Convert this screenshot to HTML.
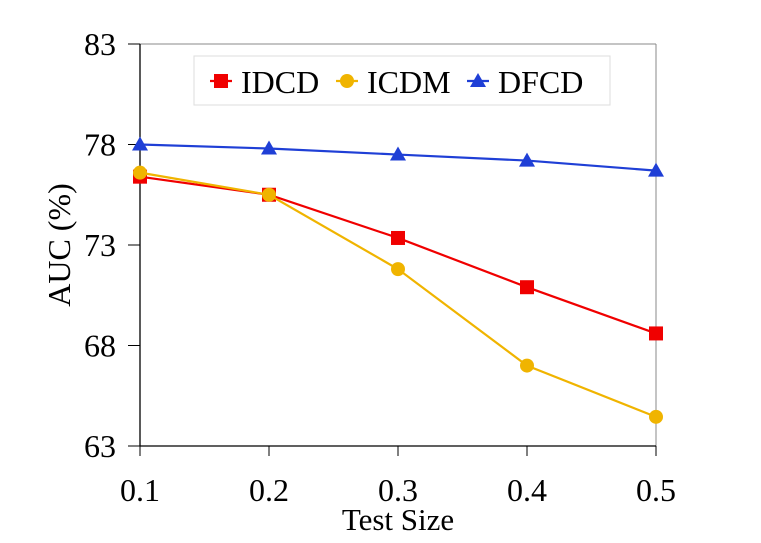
<!DOCTYPE html>
<html><head><meta charset="utf-8"><style>
body{margin:0;background:#fff}
svg text{font-family:"Liberation Serif",serif;fill:#000}
</style></head><body>
<svg width="761" height="538" id="c">
<rect x="0" y="0" width="761" height="538" fill="#fff"/>
</svg>
<script>
const xCats=[0.1,0.2,0.3,0.4,0.5];
const xTickLabels=["0.1","0.2","0.3","0.4","0.5"];
const yTicks=[63,68,73,78,83];
const idcd=[76.4,75.5,73.35,70.9,68.6];
const icdm=[76.6,75.5,71.8,67.0,64.45];
const dfcd=[78.0,77.8,77.5,77.2,76.7];
const NS="http://www.w3.org/2000/svg";
const svg=document.getElementById('c');
const L=140,R=656,T=44,B=446;
const xs=v=>L+(v-0.1)/0.4*(R-L);
const ys=v=>B-(v-63)/20*(B-T);
function mk(t,a,txt){const e=document.createElementNS(NS,t);for(const k in a)e.setAttribute(k,a[k]);if(txt!=null)e.textContent=txt;svg.appendChild(e);return e;}
let e=mk('line',{x1:L,y1:T,x2:R,y2:T,stroke:'#888','stroke-width':1});


e=mk('line',{x1:R,y1:T,x2:R,y2:B,stroke:'#888','stroke-width':1});


e=mk('line',{x1:L,y1:B,x2:R,y2:B,stroke:'#000','stroke-width':1.3});


e=mk('line',{x1:L,y1:T,x2:L,y2:B,stroke:'#000','stroke-width':1.3});


yTicks.forEach(v=>{
 const t=mk('line',{x1:L-12,y1:ys(v),x2:L,y2:ys(v),stroke:'#000','stroke-width':1});
 
 
 const l=mk('text',{x:L-24,y:ys(v)+11,'text-anchor':'end','font-size':32},String(v));
 
 
});
xCats.forEach((v,i)=>{
 const t=mk('line',{x1:xs(v),y1:B,x2:xs(v),y2:B+10,stroke:'#000','stroke-width':1});
 
 
 const l=mk('text',{x:xs(v),y:B+55,'text-anchor':'middle','font-size':32},xTickLabels[i]);
 
 
});
e=mk('text',{x:398,y:530,'text-anchor':'middle','font-size':31},'Test Size');


e=mk('text',{x:0,y:0,'text-anchor':'middle','font-size':32,transform:'translate(70,245) rotate(-90)'},'AUC (%)');


function marker(type,x,y,c){
 if(type==='sq') return mk('rect',{x:x-7,y:y-7,width:14,height:14,fill:c});
 if(type==='ci') return mk('circle',{cx:x,cy:y,r:7,fill:c});
 return mk('polygon',{points:`${x},${y-8} ${x+8},${y+6} ${x-8},${y+6}`,fill:c});
}
function series(vals,c,type,name){
 const p=mk('polyline',{points:vals.map((v,i)=>xs(xCats[i])+','+ys(v)).join(' '),fill:'none',stroke:c,'stroke-width':2.2});
 
 
 vals.forEach((v,i)=>{const m=marker(type,xs(xCats[i]),ys(v),c);
  
  });
}
series(dfcd,'#1f3fd6','tr','dfcd');
series(idcd,'#f00000','sq','idcd');
series(icdm,'#f0b400','ci','icdm');
e=mk('rect',{x:194,y:56,width:416,height:49,fill:'#fff',stroke:'#ddd','stroke-width':1});


[['IDCD','#f00000','sq',210],['ICDM','#f0b400','ci',336],['DFCD','#1f3fd6','tr',467]].forEach(([n,c,t,x])=>{
 const ln=mk('line',{x1:x,y1:81,x2:x+22,y2:81,stroke:c,'stroke-width':2.2});
 
 
 const m=marker(t,x+11,81,c);
 
 
 const tx=mk('text',{x:x+31,y:93,'font-size':32},n);
 
 
});
</script>
</body></html>
